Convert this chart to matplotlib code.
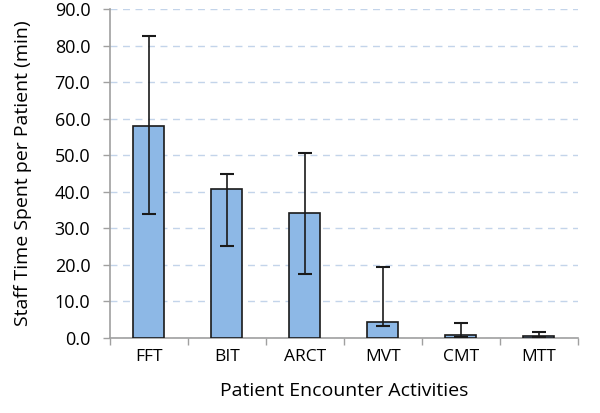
import matplotlib
matplotlib.use("Agg")
import matplotlib.pyplot as plt
import numpy as np

categories = ["FFT", "BIT", "ARCT", "MVT", "CMT", "MTT"]
means = [58.1, 40.7, 34.3, 4.4, 0.8, 0.4]
err_upper = [82.6, 44.9, 50.5, 19.3, 4.1, 1.6]
err_lower = [33.9, 25.2, 17.5, 3.2, 0.1, 0.2]
yticks = [0, 10, 20, 30, 40, 50, 60, 70, 80, 90]

plt.rcParams['font.family'] = ['Open Sans', 'DejaVu Sans']

fig = plt.figure(figsize=(6.0, 4.13), dpi=100)
ax = fig.add_axes([0.183, 0.182, 0.78, 0.796])

x = np.arange(len(categories))
m = np.array(means)
yerr = np.array([m - np.array(err_lower), np.array(err_upper) - m])
ax.bar(x, means, width=0.4, color="#8db8e6", edgecolor="#1a1a1a", linewidth=1.2, zorder=3)
ax.errorbar(x, means, yerr=yerr, fmt="none", ecolor="#1a1a1a", elinewidth=1.2, capsize=5, capthick=1.5, zorder=4)

ax.set_xlim(-0.5, len(categories) - 0.5)
ax.set_ylim(0, 90)
ax.set_yticks(yticks)
ax.set_yticklabels([f"{v:.1f}" for v in yticks], fontsize=13)
ax.set_xticks(x)
ax.set_xticklabels(categories, fontsize=12.5)
ax.set_xticks(np.arange(len(categories) + 1) - 0.5, minor=True)
ax.tick_params(axis="x", which="major", length=0, pad=8)
ax.tick_params(axis="x", which="minor", length=5, color="#a0a0a0", width=1)
ax.tick_params(axis="y", length=5, color="#a0a0a0", width=1, pad=9)

ax.grid(axis="y", linestyle=(0, (5, 4)), color="#c3d4ea", linewidth=1, zorder=0)
ax.set_axisbelow(True)
for s in ["top", "right"]:
    ax.spines[s].set_visible(False)
for s in ["left", "bottom"]:
    ax.spines[s].set_color("#a0a0a0")
    ax.spines[s].set_linewidth(1.2)

ax.set_ylabel("Staff Time Spent per Patient (min)", fontsize=14, labelpad=16)
ax.set_xlabel("Patient Encounter Activities", fontsize=14, labelpad=12)

fig.savefig("out.png", dpi=100)
